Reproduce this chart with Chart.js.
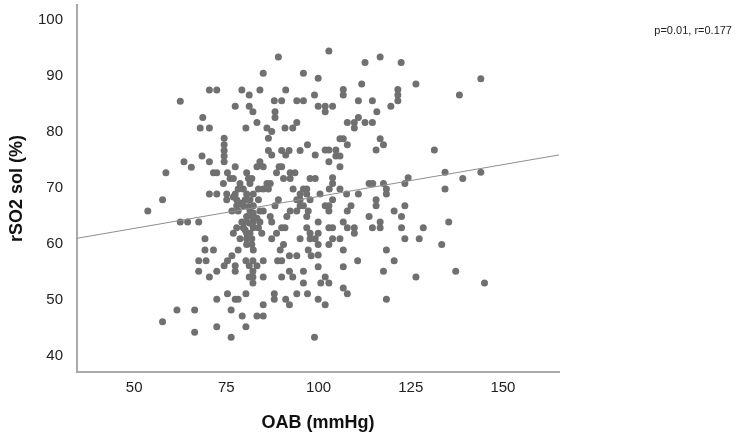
<!DOCTYPE html>
<html>
<head>
<meta charset="utf-8">
<script src="https://cdn.jsdelivr.net/npm/chart.js@4.4.0/dist/chart.umd.min.js"></script>
<style>
  body { margin: 0; background: #fff; }
  #wrap { position: relative; width: 736px; height: 437px; }
  #stat { position: absolute; right: 4px; top: 24px; font: 11px "Liberation Sans", Arial, sans-serif; color: #222; }
</style>
</head>
<body>
<div id="wrap">
  <canvas id="chart" width="736" height="437"></canvas>
  <div id="stat">p=0.01, r=0.177</div>
</div>
<script>
// OAB (mmHg) for each patient
const oab = [
  62.5, 89.1, 85.0, 95.9, 99.9, 70.4, 72.4, 79.2, 81.2, 84.1, 91.1, 98.9, 77.4, 81.2, 82.2, 88.0,
  90.0, 94.1, 95.9, 99.9, 88.2, 88.2, 68.6, 83.3, 94.1, 67.9, 70.4, 80.3, 86.0, 87.3, 90.9, 93.0,
  102.8, 112.6, 116.7, 122.4, 106.7, 106.7, 111.7, 121.5, 121.5, 121.5, 126.4, 101.8, 101.8,
  103.8, 110.8, 114.6, 115.8, 119.6, 110.8, 107.8, 109.7, 109.7, 112.6, 114.6, 144.0, 138.2,
  68.4, 63.5, 65.5, 58.6, 57.7, 53.7, 62.5, 64.5, 67.5, 67.5, 67.5, 61.6, 66.4, 57.7, 66.4,
  134.3, 139.1, 144.0, 134.3, 135.3, 133.4, 137.2, 145.0, 106.7, 110.6, 120.5, 117.6, 126.4,
  101.8, 102.8, 106.7, 107.8, 101.8, 118.4,
  69.5, 70.4, 72.4, 74.4, 75.3, 76.5, 77.4, 77.4, 80.3, 81.2, 82.2, 83.3, 82.2, 81.2, 82.2, 82.2,
  85.0, 85.0, 88.9, 90.0, 92.1, 94.1, 98.0, 90.0, 92.1, 93.0, 95.9, 95.9, 99.9, 100.6, 72.4, 75.3,
  77.4, 78.2, 80.3, 76.3, 79.3, 83.3, 85.0, 85.0, 88.0, 88.0, 91.1, 92.1, 94.1, 97.0, 99.9, 72.4,
  80.3, 76.3, 98.9,
  105.8, 106.7, 107.8, 116.7, 117.6, 101.8, 102.8, 104.7, 104.7, 105.8, 115.6, 131.4, 102.8, 105.8,
  103.8, 103.8, 102.9, 105.8, 100.4, 113.7, 114.7, 117.6, 118.4, 118.4, 123.4, 124.3, 107.6, 110.8,
  103.8, 101.8, 102.8, 102.8, 108.8, 107.8, 115.6, 115.6, 120.5, 123.4, 113.7, 122.5, 106.7, 107.8,
  109.7, 109.7, 102.8, 103.8, 116.7, 116.7, 114.6, 122.5, 128.4, 103.8, 105.8, 102.8, 123.4, 127.3,
  106.7, 118.4,
  74.4, 74.4, 74.4, 74.4, 74.4, 86.4, 97.0, 99.1, 70.4, 86.4, 87.3, 90.0, 91.1, 92.0, 95.0, 77.4,
  84.1, 83.3, 85.0, 89.3, 90.0, 71.5, 72.4, 75.3, 80.5, 88.6, 92.3, 93.6, 76.0, 76.9, 81.0, 81.9,
  90.5, 92.3, 97.7, 99.1, 74.2, 78.7, 81.4, 86.0, 86.9, 78.2, 79.6, 83.7, 85.0, 86.4, 93.1, 95.9,
  96.8, 70.4, 72.4, 75.1, 77.4, 80.5, 82.3, 95.0, 96.8, 75.1, 77.8, 80.1, 81.4, 83.7, 89.1, 94.1,
  95.0, 97.7, 77.8, 79.6, 82.3, 88.2, 95.0, 95.9, 76.5, 78.2, 81.4, 84.1, 85.0, 92.3, 94.1, 97.2,
  80.5, 81.9, 86.9, 91.4, 96.8, 79.2, 80.5, 82.3, 84.1, 87.3, 99.9, 77.8, 79.6, 82.3, 83.7, 90.0,
  90.9, 96.8, 76.9, 80.5, 81.4, 84.6, 88.6, 97.7, 99.9, 69.2, 78.7, 80.5, 81.9, 87.3, 95.0, 97.7,
  99.1, 80.5, 81.9, 90.5, 99.9, 69.2, 71.5, 78.2, 82.3, 89.6, 97.2, 99.9, 76.9, 78.7, 81.0, 82.3,
  83.3, 81.4, 80.1
];

// rSO2 sol (%) for the same patients
const rso2 = [
  85.5, 93.4, 90.5, 90.5, 89.6, 87.5, 87.5, 87.5, 86.6, 87.5, 87.5, 86.6, 84.6, 84.6, 83.6, 85.6,
  85.6, 85.6, 85.6, 84.6, 83.6, 82.6, 82.6, 81.7, 81.7, 80.7, 80.7, 80.7, 80.7, 80.1, 80.7, 80.7,
  94.5, 92.4, 93.4, 92.4, 87.6, 86.6, 88.6, 87.6, 86.6, 85.6, 88.6, 84.6, 83.6,
  84.6, 85.6, 85.6, 83.6, 84.6, 82.6, 81.7, 81.7, 80.7, 81.7, 81.7, 89.5, 86.6,
  75.7, 74.7, 73.7, 72.7, 67.9, 65.9, 63.9, 63.9, 63.9, 57.0, 55.1, 48.2, 48.2, 46.1, 44.2,
  72.8, 71.7, 72.8, 69.8, 63.9, 59.9, 55.1, 53.0, 55.9, 57.0, 57.0, 55.1, 54.1,
  54.1, 53.0, 52.1, 51.1, 49.1, 50.1,
  57.0, 54.1, 55.1, 56.1, 57.0, 57.9, 56.1, 55.1, 57.0, 56.1, 57.0, 56.1, 55.1, 54.1, 54.1, 53.0,
  57.0, 54.1, 57.0, 57.0, 57.9, 57.9, 57.9, 54.1, 55.1, 54.1, 55.1, 53.0, 55.9, 53.0, 50.1, 51.1,
  50.1, 50.1, 51.1, 48.2, 47.1, 47.1, 47.1, 49.1, 51.1, 50.1, 50.1, 49.1, 51.1, 51.1, 50.1, 45.2,
  45.2, 43.3, 43.3,
  78.8, 78.8, 77.7, 78.8, 77.7, 76.8, 76.8, 76.8, 75.7, 75.7, 76.8, 76.8, 74.7, 73.8,
  71.8, 70.8, 69.8, 69.8, 68.9, 70.8, 70.8, 70.8, 69.8, 68.9, 70.8, 71.8, 68.9, 68.9,
  67.9, 66.8, 66.8, 65.9, 66.8, 65.9, 67.9, 66.8, 65.9, 66.8, 64.9, 64.9, 63.9, 62.9,
  62.9, 61.9, 62.9, 62.9, 63.9, 62.9, 62.9, 62.9, 62.9, 60.9, 60.9, 59.9, 60.9, 60.9,
  58.9, 58.9,
  78.9, 77.7, 76.7, 75.7, 74.7, 78.9, 77.7, 75.9, 74.7, 76.7, 75.9, 76.7, 75.9, 76.7, 76.7, 73.8,
  74.7, 73.8, 73.8, 73.8, 73.8, 72.7, 72.7, 72.7, 72.7, 72.7, 72.7, 72.7, 71.7, 71.7, 71.7, 71.7,
  71.7, 71.7, 71.7, 71.7, 70.8, 70.8, 70.8, 70.8, 70.8, 69.8, 69.8, 69.8, 69.8, 69.8, 69.8, 69.8,
  69.8, 68.9, 68.9, 68.9, 68.9, 68.9, 68.9, 68.9, 68.9, 67.9, 67.9, 67.9, 67.9, 67.9, 67.9, 67.9,
  67.9, 67.9, 66.8, 66.8, 66.8, 66.8, 66.8, 66.8, 65.9, 65.9, 65.9, 65.9, 65.9, 65.9, 65.9, 65.9,
  64.9, 64.9, 64.9, 64.9, 64.9, 63.9, 63.9, 63.9, 63.9, 63.9, 63.9, 62.9, 62.9, 62.9, 62.9, 62.9,
  62.9, 62.9, 61.9, 61.9, 61.9, 61.9, 61.9, 61.9, 61.9, 60.9, 60.9, 60.9, 60.9, 60.9, 60.9, 60.9,
  60.9, 59.9, 59.9, 59.9, 59.9, 58.9, 58.9, 58.9, 58.9, 58.9, 58.9, 58.0, 68.4, 67.3, 66.7, 65.5,
  64.6, 63.7, 62.5
];

// linear fit line, ends at the axis limits
const fitX = [34.5, 165.2];
const fitY = [61.0, 75.9];

const xTicks = [50, 75, 100, 125, 150];
const yTicks = [40, 50, 60, 70, 80, 90, 100];

const points = oab.map((x, i) => ({ x: x, y: rso2[i] }));
const fitLine = fitX.map((x, i) => ({ x: x, y: fitY[i] }));

const tickFont = { family: '"Liberation Sans", Arial, sans-serif', size: 15 };
const titleFont = { family: '"Liberation Sans", Arial, sans-serif', size: 18, weight: 'bold' };
const axisBorder = { display: true, color: '#a9a9a9', width: 2 };

new Chart(document.getElementById("chart"), {
  type: 'scatter',
  data: {
    datasets: [
      {
        data: fitLine,
        showLine: true,
        borderColor: '#8e8e8e',
        borderWidth: 1,
        pointRadius: 0
      },
      {
        data: points,
        backgroundColor: '#707070',
        borderWidth: 0,
        pointRadius: 3.5
      }
    ]
  },
  options: {
    responsive: false,
    animation: false,
    layout: { padding: { top: 5, right: 177, left: 0, bottom: 0 } },
    plugins: {
      legend: { display: false },
      tooltip: { enabled: false }
    },
    scales: {
      x: {
        type: 'linear',
        min: 34.5,
        max: 165.2,
        afterBuildTicks: s => { s.ticks = xTicks.map(v => ({ value: v })); },
        afterFit: s => { s.height = 65; s.paddingLeft = 0; s.paddingRight = 0; },
        grid: { display: false, drawTicks: false },
        border: axisBorder,
        ticks: { font: tickFont, color: '#222', padding: 7 },
        title: { display: true, text: 'OAB (mmHg)', font: titleFont, color: '#111', padding: { top: 0, bottom: 3 } }
      },
      y: {
        type: 'linear',
        min: 37.1,
        max: 102.7,
        afterBuildTicks: s => { s.ticks = yTicks.map(v => ({ value: v })); },
        afterFit: s => { s.width = 77; s.paddingTop = 0; s.paddingBottom = 0; },
        grid: { display: false, drawTicks: false },
        border: axisBorder,
        ticks: { font: tickFont, color: '#222', padding: 14 },
        title: { display: true, text: 'rSO2 sol (%)', font: titleFont, color: '#111', padding: { top: 6, bottom: 0 } }
      }
    }
  }
});
</script>
</body>
</html>
